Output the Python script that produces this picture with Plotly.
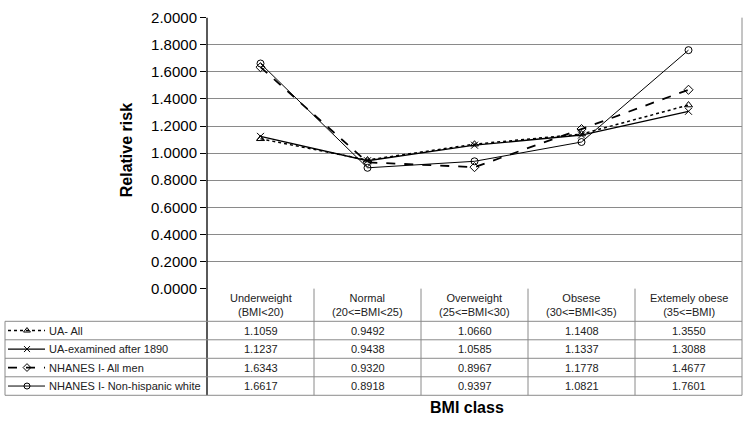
import plotly.graph_objects as go

W, H = 749, 435

categories = ["Underweight", "Normal", "Overweight", "Obsese", "Extemely obese"]
category_ranges = ["(BMI<20)", "(20<=BMI<25)", "(25<=BMI<30)", "(30<=BMI<35)", "(35<=BMI)"]

series_names = ["UA- All", "UA-examined after 1890", "NHANES I- All men", "NHANES I- Non-hispanic white"]
ua_all = [1.1059, 0.9492, 1.0660, 1.1408, 1.3550]
ua_examined = [1.1237, 0.9438, 1.0585, 1.1337, 1.3088]
nhanes_all_men = [1.6343, 0.9320, 0.8967, 1.1778, 1.4677]
nhanes_white = [1.6617, 0.8918, 0.9397, 1.0821, 1.7601]

y_ticks = [0.0, 0.2, 0.4, 0.6, 0.8, 1.0, 1.2, 1.4, 1.6, 1.8, 2.0]

all_series = [ua_all, ua_examined, nhanes_all_men, nhanes_white]
styles = [
    dict(dash="dot", width=1.5, symbol="triangle-up-open"),
    dict(dash="solid", width=1.3, symbol="x-thin-open"),
    dict(dash="dash", width=1.8, symbol="diamond-open"),
    dict(dash="solid", width=1.0, symbol="circle-open"),
]

# layout geometry (pixels)
PL, PR = 207, 742
PT, PB = 9, 291
TH = 325          # header bottom
TB = 402          # table bottom
LX = 5            # legend column left

def px(x):
    return x / W

def py(y):
    return 1 - y / H

FONT = "Liberation Sans, Arial, sans-serif"
GRAY = "#8a8a8a"

fig = go.Figure()
for name, vals, st in zip(series_names, all_series, styles):
    fig.add_trace(go.Scatter(
        x=categories, y=vals, name=name, mode="lines+markers",
        line=dict(color="black", dash=st["dash"], width=st["width"]),
        marker=dict(symbol=st["symbol"], size=7, color="black",
                    line=dict(color="black", width=1)),
        showlegend=False, cliponaxis=False,
    ))

shapes = []
annotations = []

shapes.append(dict(type="line", xref="paper", yref="paper", x0=px(PR), x1=px(PR),
                   y0=py(PT), y1=py(TB), line=dict(color=GRAY, width=1)))
colw = (PR - PL) / len(categories)
for i in range(1, len(categories)):
    x = PL + i * colw
    shapes.append(dict(type="line", xref="paper", yref="paper", x0=px(x), x1=px(x),
                       y0=py(PB), y1=py(TB), line=dict(color=GRAY, width=1)))
shapes.append(dict(type="line", xref="paper", yref="paper", x0=px(PL), x1=px(PL),
                   y0=py(PT), y1=py(TB), line=dict(color="black", width=1.3)))
shapes.append(dict(type="line", xref="paper", yref="paper", x0=px(LX), x1=px(LX),
                   y0=py(TH), y1=py(TB), line=dict(color=GRAY, width=1)))
rowh = (TB - TH) / len(series_names)
for r in range(len(series_names) + 1):
    y = TH + r * rowh
    shapes.append(dict(type="line", xref="paper", yref="paper", x0=px(LX), x1=px(PR),
                       y0=py(y), y1=py(y), line=dict(color=GRAY, width=1)))

for i, (c, rng) in enumerate(zip(categories, category_ranges)):
    cx = PL + (i + 0.5) * colw
    annotations.append(dict(xref="paper", yref="paper", x=px(cx), y=py(PB + (TH - PB) / 2),
                            text=f"{c}<br>{rng.replace('<', '&lt;')}", showarrow=False,
                            font=dict(family=FONT, size=11, color="#222"),
                            xanchor="center", yanchor="middle", align="center"))

for r, (name, vals, st) in enumerate(zip(series_names, all_series, styles)):
    cy = TH + (r + 0.5) * rowh
    for i, v in enumerate(vals):
        cx = PL + (i + 0.5) * colw
        annotations.append(dict(xref="paper", yref="paper", x=px(cx), y=py(cy),
                                text=f"{v:.4f}", showarrow=False,
                                font=dict(family=FONT, size=11, color="#222"),
                                xanchor="center", yanchor="middle"))
    annotations.append(dict(xref="paper", yref="paper", x=px(47), y=py(cy),
                            text=name, showarrow=False,
                            font=dict(family=FONT, size=11, color="#222"),
                            xanchor="left", yanchor="middle"))
    fig.add_trace(go.Scatter(
        x=[8, 45], y=[cy, cy], mode="lines", xaxis="x2", yaxis="y2",
        line=dict(color="black", dash=st["dash"], width=st["width"]),
        showlegend=False, hoverinfo="skip",
    ))
    fig.add_trace(go.Scatter(
        x=[27], y=[cy], mode="markers", xaxis="x2", yaxis="y2",
        marker=dict(symbol=st["symbol"], size=6, color="black",
                    line=dict(color="black", width=1)),
        showlegend=False, hoverinfo="skip",
    ))

annotations.append(dict(xref="paper", yref="paper", x=px(126), y=py(147),
                        text="<b>Relative risk</b>", textangle=-90, showarrow=False,
                        font=dict(family=FONT, size=16, color="black"),
                        xanchor="center", yanchor="middle"))
annotations.append(dict(xref="paper", yref="paper", x=px(467), y=py(415),
                        text="<b>BMI class</b>", showarrow=False,
                        font=dict(family=FONT, size=16, color="black"),
                        xanchor="center", yanchor="middle"))

fig.update_layout(
    width=W, height=H,
    margin=dict(l=0, r=0, t=0, b=0),
    paper_bgcolor="white", plot_bgcolor="rgba(0,0,0,0)",
    xaxis=dict(domain=[px(PL), px(PR)], range=[-0.5, 4.5], showticklabels=False,
               showgrid=False, zeroline=False, showline=False, ticks=""),
    yaxis=dict(domain=[py(PB), py(PT)], range=[0, 2], tickvals=y_ticks,
               tickformat=".4f", showgrid=True, gridcolor=GRAY, gridwidth=1,
               zeroline=False, showline=False, ticks="outside", ticklen=6,
               tickcolor="black", tickfont=dict(family=FONT, size=15, color="black")),
    xaxis2=dict(domain=[0, 1], range=[0, W], visible=False, fixedrange=True, anchor="y2"),
    yaxis2=dict(domain=[0, 1], range=[H, 0], visible=False, fixedrange=True, anchor="x2"),
    shapes=shapes,
    annotations=annotations,
)
fig.write_html("out.html", config={"displayModeBar": False},
               post_script="document.body.style.margin='0';document.body.style.overflow='hidden';")
